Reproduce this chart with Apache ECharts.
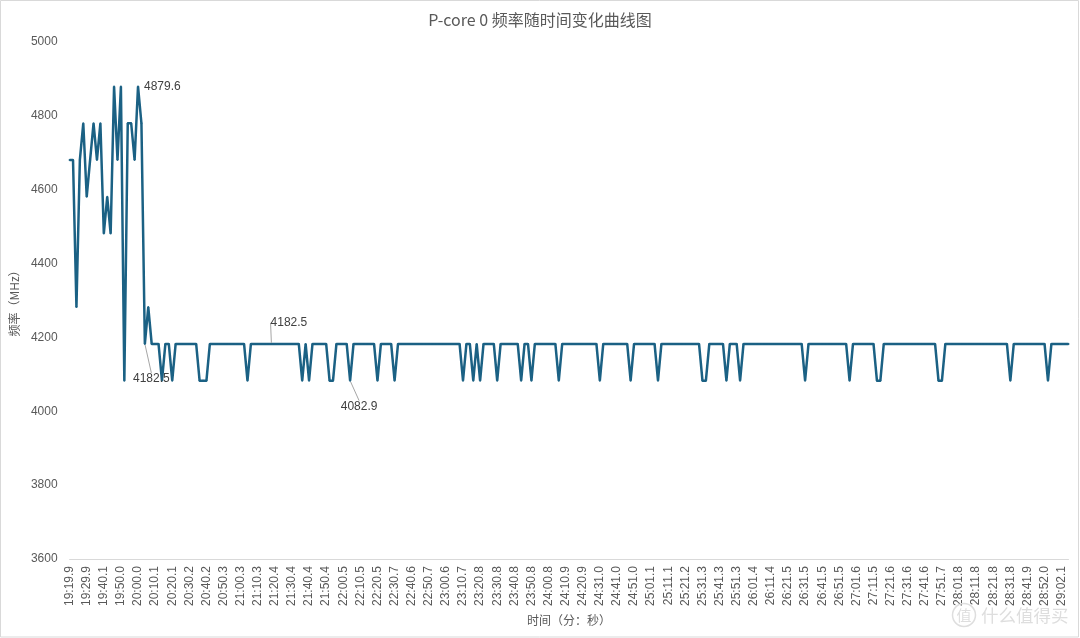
<!DOCTYPE html>
<html>
<head>
<meta charset="utf-8">
<script src="https://cdn.jsdelivr.net/npm/echarts@6/dist/echarts.min.js"></script>
<style>
html,body{margin:0;padding:0;background:#ffffff;}
#chart{width:1080px;height:638px;}
</style>
</head>
<body>
<div id="chart"></div>
<script>
// ---------------- data ----------------
const titleText = 'P-core 0 频率随时间变化曲线图';
const xAxisName = '时间（分：秒）';
const yAxisName = '频率（MHz）';
const watermarkText = '什么值得买';

// x tick labels (one every 5 samples)
const tickLabels = [
  '19:19.9','19:29.9','19:40.1','19:50.0',
  '20:00.0','20:10.1','20:20.1','20:30.2','20:40.2','20:50.3',
  '21:00.3','21:10.3','21:20.4','21:30.4','21:40.4','21:50.4',
  '22:00.5','22:10.5','22:20.5','22:30.7','22:40.6','22:50.7',
  '23:00.6','23:10.7','23:20.8','23:30.8','23:40.8','23:50.8',
  '24:00.8','24:10.9','24:20.9','24:31.0','24:41.0','24:51.0',
  '25:01.1','25:11.1','25:21.2','25:31.3','25:41.3','25:51.3',
  '26:01.4','26:11.4','26:21.5','26:31.5','26:41.5','26:51.5',
  '27:01.6','27:11.5','27:21.6','27:31.6','27:41.6','27:51.7',
  '28:01.8','28:11.8','28:21.8','28:31.8','28:41.9','28:52.0',
  '29:02.1'
];

// frequency samples (MHz)
const freqMHz = [
  4680.5,4680.5,4282.1,4680.5,4780.0,4580.9,4680.5,4780.0,4680.5,4780.0,
  4481.3,4580.9,4481.3,4879.6,4680.5,4879.6,4082.9,4780.0,4780.0,4680.5,
  4879.6,4780.0,4182.5,4282.1,4182.5,4182.5,4182.5,4082.9,4182.5,4182.5,
  4082.9,4182.5,4182.5,4182.5,4182.5,4182.5,4182.5,4182.5,4082.9,4082.9,
  4082.9,4182.5,4182.5,4182.5,4182.5,4182.5,4182.5,4182.5,4182.5,4182.5,
  4182.5,4182.5,4082.9,4182.5,4182.5,4182.5,4182.5,4182.5,4182.5,4182.5,
  4182.5,4182.5,4182.5,4182.5,4182.5,4182.5,4182.5,4182.5,4082.9,4182.5,
  4082.9,4182.5,4182.5,4182.5,4182.5,4182.5,4082.9,4082.9,4182.5,4182.5,
  4182.5,4182.5,4082.9,4182.5,4182.5,4182.5,4182.5,4182.5,4182.5,4182.5,
  4082.9,4182.5,4182.5,4182.5,4182.5,4082.9,4182.5,4182.5,4182.5,4182.5,
  4182.5,4182.5,4182.5,4182.5,4182.5,4182.5,4182.5,4182.5,4182.5,4182.5,
  4182.5,4182.5,4182.5,4182.5,4182.5,4082.9,4182.5,4182.5,4082.9,4182.5,
  4082.9,4182.5,4182.5,4182.5,4182.5,4082.9,4182.5,4182.5,4182.5,4182.5,
  4182.5,4182.5,4082.9,4182.5,4182.5,4082.9,4182.5,4182.5,4182.5,4182.5,
  4182.5,4182.5,4182.5,4082.9,4182.5,4182.5,4182.5,4182.5,4182.5,4182.5,
  4182.5,4182.5,4182.5,4182.5,4182.5,4082.9,4182.5,4182.5,4182.5,4182.5,
  4182.5,4182.5,4182.5,4182.5,4082.9,4182.5,4182.5,4182.5,4182.5,4182.5,
  4182.5,4182.5,4082.9,4182.5,4182.5,4182.5,4182.5,4182.5,4182.5,4182.5,
  4182.5,4182.5,4182.5,4182.5,4182.5,4082.9,4082.9,4182.5,4182.5,4182.5,
  4182.5,4182.5,4082.9,4182.5,4182.5,4182.5,4082.9,4182.5,4182.5,4182.5,
  4182.5,4182.5,4182.5,4182.5,4182.5,4182.5,4182.5,4182.5,4182.5,4182.5,
  4182.5,4182.5,4182.5,4182.5,4182.5,4082.9,4182.5,4182.5,4182.5,4182.5,
  4182.5,4182.5,4182.5,4182.5,4182.5,4182.5,4182.5,4182.5,4082.9,4182.5,
  4182.5,4182.5,4182.5,4182.5,4182.5,4182.5,4082.9,4082.9,4182.5,4182.5,
  4182.5,4182.5,4182.5,4182.5,4182.5,4182.5,4182.5,4182.5,4182.5,4182.5,
  4182.5,4182.5,4182.5,4182.5,4082.9,4082.9,4182.5,4182.5,4182.5,4182.5,
  4182.5,4182.5,4182.5,4182.5,4182.5,4182.5,4182.5,4182.5,4182.5,4182.5,
  4182.5,4182.5,4182.5,4182.5,4182.5,4082.9,4182.5,4182.5,4182.5,4182.5,
  4182.5,4182.5,4182.5,4182.5,4182.5,4182.5,4082.9,4182.5,4182.5,4182.5,
  4182.5,4182.5,4182.5
];

// sample indices that carry a value label
const labelledIndices = [20, 22, 59, 82];

// y axis range
const yMin = 3600, yMax = 5000, yStep = 200;

// ---------------- style ----------------
const lineColor = '#1b6184';
const textColor = '#595959';
const latinFont = "'Liberation Sans', Arial, 'Noto Sans CJK SC', sans-serif";
const cjkFont = "'Noto Sans CJK SC', 'Liberation Sans', sans-serif";
const labelPlacement = {
  20: { position: 'right', distance: 5 },
  22: { position: 'inside', dx: 6.5, dy: 35, guide: true },
  59: { position: 'inside', dx: 17.5, dy: -21, guide: true },
  82: { position: 'inside', dx: 9, dy: 26, guide: true }
};

const categories = freqMHz.map((_, i) => (i % 5 === 0 ? tickLabels[i / 5] : '#' + i));

const seriesData = freqMHz.map((v, i) => {
  if (labelledIndices.indexOf(i) < 0) return v;
  const p = labelPlacement[i] || {};
  return {
    value: v,
    label: {
      show: true,
      position: p.position || 'top',
      distance: p.distance != null ? p.distance : 5
    },
    labelLine: {
      show: !!p.guide,
      lineStyle: { color: '#a6a6a6', width: 1 }
    }
  };
});

const chart = echarts.init(document.getElementById('chart'), null, { renderer: 'canvas' });

chart.setOption({
  animation: false,
  backgroundColor: '#ffffff',
  title: {
    text: titleText,
    left: 'center',
    top: 7,
    textStyle: { fontFamily: cjkFont, fontSize: 16, fontWeight: 'normal', color: textColor }
  },
  grid: { left: 69.5, right: 11.5, top: 42, bottom: 79, containLabel: false },
  xAxis: {
    type: 'category',
    data: categories,
    boundaryGap: false,
    name: xAxisName,
    nameLocation: 'middle',
    nameGap: 55,
    nameTextStyle: { fontFamily: cjkFont, fontSize: 12, color: textColor },
    axisLine: { show: true, lineStyle: { color: '#d9d9d9', width: 1 } },
    axisTick: { show: false },
    splitLine: { show: false },
    axisLabel: {
      interval: 4,
      rotate: 90,
      margin: 7,
      fontFamily: latinFont,
      fontSize: 12,
      color: textColor,
      formatter: (val, idx) => (idx % 5 === 0 ? tickLabels[idx / 5] : '')
    }
  },
  yAxis: {
    type: 'value',
    min: yMin,
    max: yMax,
    interval: yStep,
    name: yAxisName,
    nameLocation: 'middle',
    nameGap: 39,
    nameTextStyle: { fontFamily: cjkFont, fontSize: 12, color: textColor },
    axisLine: { show: false },
    axisTick: { show: false },
    splitLine: { show: false },
    axisLabel: {
      margin: 12,
      fontFamily: latinFont,
      fontSize: 12,
      color: textColor,
      formatter: (v) => String(v)
    }
  },
  series: [{
    type: 'line',
    data: seriesData,
    symbol: 'circle',
    symbolSize: 2,
    showSymbol: true,
    showAllSymbol: true,
    itemStyle: { color: lineColor, borderWidth: 0 },
    lineStyle: { color: lineColor, width: 2.5 },
    label: {
      show: false,
      fontFamily: latinFont,
      fontSize: 12,
      color: '#404040',
      textBorderWidth: 0
    },
    labelLine: { show: false, lineStyle: { color: '#a6a6a6', width: 1 } },
    labelLayout: (params) => {
      const p = labelPlacement[params.dataIndex];
      if (p && p.dx != null) return { dx: p.dx, dy: p.dy };
      return {};
    },
    emphasis: { disabled: true },
    silent: true,
    z: 3
  }],
  graphic: [
    {
      type: 'rect',
      silent: true,
      shape: { x: 0.5, y: 0.5, width: 1078, height: 636.5 },
      style: { fill: 'none', stroke: '#d9d9d9', lineWidth: 1 },
      z: -1
    },
    {
      type: 'circle',
      silent: true,
      shape: { cx: 964, cy: 615, r: 11.5 },
      style: { fill: 'none', stroke: '#dedede', lineWidth: 1.5 },
      z: 1
    },
    {
      type: 'text',
      silent: true,
      x: 964, y: 615,
      style: { text: '值', fontFamily: cjkFont, fontSize: 15, fill: '#dedede', align: 'center', verticalAlign: 'middle' },
      z: 1
    },
    {
      type: 'text',
      silent: true,
      x: 981, y: 615,
      style: { text: watermarkText, fontFamily: cjkFont, fontSize: 17.5, fill: '#dedede', align: 'left', verticalAlign: 'middle' },
      z: 1
    }
  ]
});
</script>
</body>
</html>
